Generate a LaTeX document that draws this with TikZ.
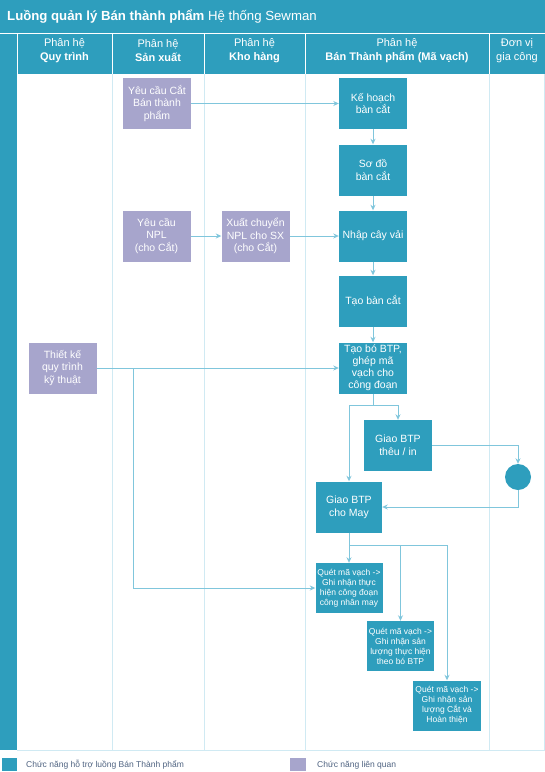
\documentclass[tikz,border=0pt]{standalone}
\usepackage{fontspec}
\setmainfont{Liberation Sans}
\usetikzlibrary{arrows.meta}
\definecolor{teal1}{RGB}{46,158,189}
\definecolor{purp}{RGB}{167,165,204}
\definecolor{conn}{RGB}{128,198,220}
\definecolor{lane}{RGB}{208,234,243}
\definecolor{legtxt}{RGB}{80,100,130}
\begin{document}
\begin{tikzpicture}[x=1pt,y=-1pt,
  box/.style={minimum width=68pt,minimum height=51pt,inner sep=1pt,align=center,text=white,font=\fontsize{10.5}{12.6}\selectfont},
  mainbox/.style={box,fill=teal1},
  relbox/.style={box,fill=purp},
  smallbox/.style={mainbox,minimum width=67pt,minimum height=50pt,font=\fontsize{8.5}{10}\selectfont},
  flow/.style={conn,line width=0.9pt,-{Stealth[length=5.5pt,width=5pt]}},
  plain/.style={conn,line width=0.9pt},
  hdr/.style={text=white,align=center,font=\fontsize{11}{14}\selectfont},
  lanel/.style={lane,line width=0.8pt},
  legtext/.style={anchor=west,text=legtxt,font=\fontsize{8.5}{10}\selectfont,inner sep=0pt}
]
\useasboundingbox (0,0) rectangle (545,772);
\fill[white] (0,0) rectangle (545,772);
% header bands
\fill[teal1] (0,0) rectangle (545,33);
\fill[teal1] (0,34) rectangle (545,74);
\fill[teal1] (0,34) rectangle (17,750);
\foreach \xx in {17,112,204,305,489} {\draw[white,line width=0.8pt] (\xx,34) -- (\xx,74);}
% lanes
\foreach \xx in {112,204,305,489} {\draw[lanel] (\xx,74) -- (\xx,750);}
\draw[lanel] (17,750) -- (545,750);
\draw[lanel] (544.6,74) -- (544.6,750);
% title and headers
\node[anchor=west,text=white,inner sep=0pt,font=\fontsize{13.2}{15}\selectfont] (title) at (7,17) {\textbf{Luồng quản lý Bán thành phẩm} Hệ thống Sewman};
\node[hdr] (h1) at (64.5,50.5) {Phân hệ\\\textbf{Quy trình}};
\node[hdr] (h2) at (158,50.5) {Phân hệ\\\textbf{Sản xuất}};
\node[hdr] (h3) at (254.5,50.5) {Phân hệ\\\textbf{Kho hàng}};
\node[hdr] (h4) at (397,50.5) {Phân hệ\\\textbf{Bán Thành phẩm (Mã vạch)}};
\node[hdr] (h5) at (517,50.5) {Đơn vị\\gia công};
% nodes
\node[relbox] (yccat) at (157,103.5) {Yêu cầu Cắt\\Bán thành\\phẩm};
\node[mainbox] (kehoach) at (373,103.5) {Kế hoạch\\bàn cắt};
\node[mainbox] (sodo) at (373,170) {Sơ đồ\\bàn cắt};
\node[relbox] (ycnpl) at (156.5,236) {Yêu cầu\\NPL\\(cho Cắt)};
\node[relbox] (xuat) at (255.5,236) {Xuất chuyển\\NPL cho SX\\(cho Cắt)};
\node[mainbox] (nhap) at (373,236) {Nhập cây vải};
\node[mainbox] (taoban) at (373,301) {Tạo bàn cắt};
\node[mainbox,font=\fontsize{10.5}{11.9}\selectfont] (taobo) at (373,368) {Tạo bó BTP,\\ghép mã\\vạch cho\\công đoạn};
\node[relbox] (thietke) at (62.5,368) {Thiết kế\\quy trình\\kỹ thuật};
\node[mainbox] (giaothe) at (398,445.5) {Giao BTP\\thêu / in};
\node[mainbox,minimum width=66pt] (giaomay) at (349,507) {Giao BTP\\cho May};
\node[circle,fill=teal1,minimum size=26pt,inner sep=0pt] (circ) at (518,477) {};
\node[smallbox] (quet1) at (349,588) {Quét mã vạch ->\\Ghi nhận thực\\hiện công đoạn\\công nhân may};
\node[smallbox] (quet2) at (400.5,646) {Quét mã vạch ->\\Ghi nhận sản\\lượng thực hiện\\theo bó BTP};
\node[smallbox,minimum width=68pt] (quet3) at (447,705.5) {Quét mã vạch ->\\Ghi nhận sản\\lượng Cắt và\\Hoàn thiện};
% connectors
\draw[flow] (yccat) -- (kehoach);
\draw[flow] (kehoach) -- (sodo);
\draw[flow] (sodo) -- (nhap);
\draw[flow] (ycnpl) -- (xuat);
\draw[flow] (xuat) -- (nhap);
\draw[flow] (nhap) -- (taoban);
\draw[flow] (taoban) -- (taobo);
\draw[flow] (thietke) -- (taobo);
\coordinate (b1) at (133,368);
\draw[flow] (b1) |- (quet1);
\coordinate (s1) at (373,405);
\draw[plain] (taobo) -- (s1);
\draw[flow] (s1) -| (giaothe);
\draw[flow] (s1) -| (giaomay);
\draw[flow] (giaothe) -| (circ);
\draw[flow] (circ) |- (giaomay);
\draw[flow] (giaomay) -- (quet1);
\coordinate (s2) at (349,545);
\draw[flow] (s2) -| (quet2);
\draw[flow] (s2) -| (quet3);
% legend
\node[fill=teal1,minimum width=15pt,minimum height=13pt,inner sep=0pt] (leg1) at (9.5,764.5) {};
\node[legtext] (leg1t) at (26,765) {Chức năng hỗ trợ luồng Bán Thành phẩm};
\node[fill=purp,minimum width=16pt,minimum height=13pt,inner sep=0pt] (leg2) at (298,764.5) {};
\node[legtext] (leg2t) at (317,765) {Chức năng liên quan};
\end{tikzpicture}
\end{document}
